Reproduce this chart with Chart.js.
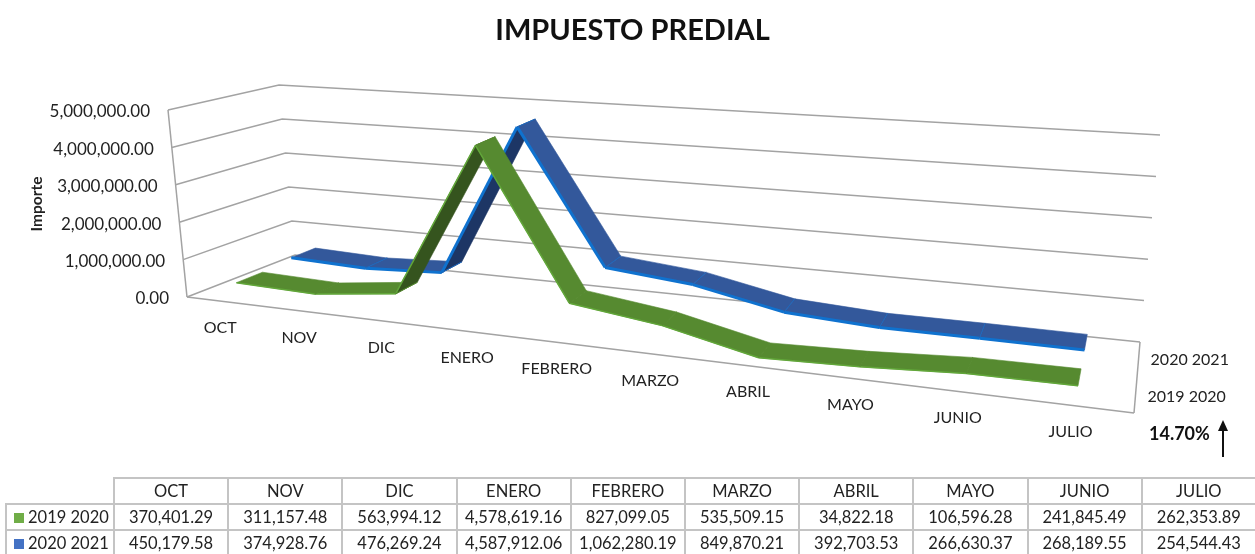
<!DOCTYPE html>
<html>
<head>
<meta charset="utf-8">
<script src="https://cdn.jsdelivr.net/npm/chart.js@4"></script>
<style>
  html, body { margin: 0; padding: 0; background: #fff; width: 1255px; height: 554px; overflow: hidden; }
  #wrap { position: relative; width: 1255px; height: 554px; overflow: hidden; }
  canvas { position: absolute; left: 0; top: 0; }
  table { position: absolute; left: 5px; top: 477px; width: 1250px; border-collapse: collapse; table-layout: fixed;
          font: 16.5px Lato, sans-serif; color: #222; }
  td { border: 2px solid #c4c4c4; height: 24px; padding: 0; text-align: center; white-space: nowrap; overflow: hidden; }
  td.blank { border: 0; }
  td.name { text-align: left; padding-left: 7px; }
  td.name i { display: inline-block; width: 10px; height: 10px; margin-right: 4px; }
</style>
</head>
<body>
<div id="wrap">
  <canvas id="chart" width="1255" height="554"></canvas>
  <table id="datos"></table>
</div>
<script>
// =============== data ======================
var categories = ["OCT", "NOV", "DIC", "ENERO", "FEBRERO", "MARZO", "ABRIL", "MAYO", "JUNIO", "JULIO"];
var serie2019 = [370401.29, 311157.48, 563994.12, 4578619.16, 827099.05, 535509.15, 34822.18, 106596.28, 241845.49, 262353.89];
var serie2020 = [450179.58, 374928.76, 476269.24, 4587912.06, 1062280.19, 849870.21, 392703.53, 266630.37, 268189.55, 254544.43];
var seriesNames = ["2019 2020", "2020 2021"];

// =============== look of the 3d box ======================
var FONT = "Lato, sans-serif";
var GRID = "#a3a3a3";
var TEXT = "#222";
// corners of the box on screen (f/b = front/back, l/r = left/right, 0/1 = floor/top)
var box = {
    fl0: [187, 297], fl1: [168, 110], fr0: [1134, 413], fr1: [1156, 185],
    bl0: [295, 255], bl1: [279, 85], br0: [1140, 342], br1: [1160, 135]
};
var perspective = 1.25; // right side of the box is closer to the viewer
var ribbons = [
    { near: 0.12, far: 0.37, top: "#568a30", under: "#35541e", edge: "#62a73a", edgeWidth: 1.5, seam: "#568a30", legend: "#70ad47" },
    { near: 0.65, far: 0.88, top: "#33589b", under: "#1d3665", edge: "#0f72cf", edgeWidth: 3, seam: "#1c68bd", legend: "#4472c4" }
];

function lerp(a, b, t) {
    return [a[0] + (b[0] - a[0]) * t, a[1] + (b[1] - a[1]) * t];
}

// u: along the categories, v: depth, w: height, all 0..1
function project(u, v, w) {
    var s = u / (u + perspective * (1 - u));
    var front = lerp(lerp(box.fl0, box.fr0, s), lerp(box.fl1, box.fr1, s), w);
    var back = lerp(lerp(box.bl0, box.br0, s), lerp(box.bl1, box.br1, s), w);
    return lerp(front, back, v);
}

function fmt(n) {
    return n.toLocaleString("en-US", { minimumFractionDigits: 2, maximumFractionDigits: 2 });
}

function line(ctx, a, b) {
    ctx.beginPath();
    ctx.moveTo(a[0], a[1]);
    ctx.lineTo(b[0], b[1]);
    ctx.stroke();
}

// =============== box, ribbons and their labels ======================
var box3d = {
    id: "box3d",
    beforeDatasetsDraw: function (chart) {
        var ctx = chart.ctx;
        var xs = chart.scales.x, ys = chart.scales.y;
        ctx.save();

        // walls and floor
        ctx.strokeStyle = GRID;
        ctx.lineWidth = 1.5;
        line(ctx, box.fl0, box.fl1);
        line(ctx, box.fl0, box.fr0);
        line(ctx, box.fr0, box.br0);
        ys.ticks.forEach(function (tick) {
            var w = (ys.bottom - ys.getPixelForValue(tick.value)) / ys.height;
            var a = project(0, 0, w), b = project(0, 1, w), c = project(1, 1, w);
            ctx.beginPath();
            ctx.moveTo(a[0], a[1]);
            ctx.lineTo(b[0], b[1]);
            ctx.lineTo(c[0], c[1]);
            ctx.stroke();
        });

        // value axis
        ctx.fillStyle = TEXT;
        ctx.font = "17px " + FONT;
        ctx.textAlign = "right";
        ctx.textBaseline = "middle";
        ys.ticks.forEach(function (tick) {
            var w = (ys.bottom - ys.getPixelForValue(tick.value)) / ys.height;
            var p = project(0, 0, w);
            ctx.fillText(fmt(tick.value), p[0] - 18, p[1] + 2);
        });

        // category axis
        ctx.font = "16px " + FONT;
        ctx.textAlign = "center";
        categories.forEach(function (name, i) {
            var u = (xs.getPixelForValue(i) - xs.left) / xs.width;
            var p = project(u, 0, 0);
            ctx.fillText(name, p[0] - 5, p[1] + 26);
        });

        // series axis
        ctx.font = "16px " + FONT;
        ctx.textAlign = "left";
        seriesNames.forEach(function (name, i) {
            var p = project(1, (ribbons[i].near + ribbons[i].far) / 2, 0);
            ctx.fillText(name, p[0] + 12, p[1] + 1);
        });

        // Importe
        ctx.save();
        ctx.translate(37, 204);
        ctx.rotate(-Math.PI / 2);
        ctx.textAlign = "center";
        ctx.font = "bold 15.5px " + FONT;
        ctx.fillText("Importe", 0, 0);
        ctx.restore();

        // back series first so the green one stays in front
        for (var d = chart.data.datasets.length - 1; d >= 0; d--) {
            drawRibbon(ctx, chart, d);
        }

        // 14.70% note
        ctx.fillStyle = "#111";
        ctx.strokeStyle = "#111";
        ctx.font = "bold 18px " + FONT;
        ctx.textAlign = "left";
        ctx.fillText("14.70%", 1149, 434);
        ctx.lineWidth = 2;
        line(ctx, [1223, 457], [1223, 428]);
        ctx.beginPath();
        ctx.moveTo(1223, 420);
        ctx.lineTo(1218, 431);
        ctx.lineTo(1228, 431);
        ctx.closePath();
        ctx.fill();

        ctx.restore();
    }
};

function drawRibbon(ctx, chart, d) {
    var meta = chart.getDatasetMeta(d);
    var r = ribbons[d];
    var xs = chart.scales.x, ys = chart.scales.y;
    var near = [], far = [];
    meta.data.forEach(function (pt) {
        var u = (pt.x - xs.left) / xs.width;
        var w = (ys.bottom - pt.y) / ys.height;
        near.push(project(u, r.near, w));
        far.push(project(u, r.far, w));
    });
    ctx.lineJoin = "round";
    for (var i = 0; i < near.length - 1; i++) {
        var a = near[i], b = near[i + 1], c = far[i + 1], e = far[i];
        // quad flips over when the ribbon climbs fast, then we see its underside
        var cross = (b[0] - a[0]) * (e[1] - a[1]) - (b[1] - a[1]) * (e[0] - a[0]);
        var col = cross > 0 ? r.under : r.top;
        ctx.fillStyle = col;
        ctx.strokeStyle = col;
        ctx.lineWidth = 0.6;
        ctx.beginPath();
        ctx.moveTo(a[0], a[1]);
        ctx.lineTo(b[0], b[1]);
        ctx.lineTo(c[0], c[1]);
        ctx.lineTo(e[0], e[1]);
        ctx.closePath();
        ctx.fill();
        ctx.stroke();
        // lighter front edge
        ctx.strokeStyle = r.edge;
        ctx.lineWidth = r.edgeWidth;
        line(ctx, a, b);
        // thin joint
        if (i > 0) {
            ctx.strokeStyle = r.seam;
            ctx.lineWidth = 1;
            line(ctx, a, e);
        }
    }
}

new Chart(document.getElementById("chart"), {
    type: "line",
    data: {
        labels: categories,
        datasets: [
            { label: seriesNames[0], data: serie2019, showLine: false, pointRadius: 0 },
            { label: seriesNames[1], data: serie2020, showLine: false, pointRadius: 0 }
        ]
    },
    options: {
        responsive: false,
        animation: false,
        layout: { padding: { left: 10 } },
        plugins: {
            legend: { display: false },
            tooltip: { enabled: false },
            title: {
                display: true,
                text: "IMPUESTO PREDIAL",
                color: "#111",
                font: { family: FONT, size: 29, weight: "bold" },
                padding: { top: 13, bottom: 10 }
            }
        },
        scales: {
            x: { type: "category", offset: true, display: false },
            y: { min: 0, max: 5000000, ticks: { stepSize: 1000000 }, display: false }
        }
    },
    plugins: [box3d]
});

// =============== data table ======================
var html = '<colgroup><col style="width:108px">' + categories.map(function () {
    return '<col style="width:114.2px">';
}).join("") + "</colgroup>";
html += '<tr><td class="blank"></td>' + categories.map(function (c) { return "<td>" + c + "</td>"; }).join("") + "</tr>";
[serie2019, serie2020].forEach(function (values, i) {
    html += '<tr><td class="name"><i style="background:' + ribbons[i].legend + '"></i>' + seriesNames[i] + "</td>";
    html += values.map(function (v) { return "<td>" + fmt(v) + "</td>"; }).join("") + "</tr>";
});
document.getElementById("datos").innerHTML = html;
</script>
</body>
</html>
